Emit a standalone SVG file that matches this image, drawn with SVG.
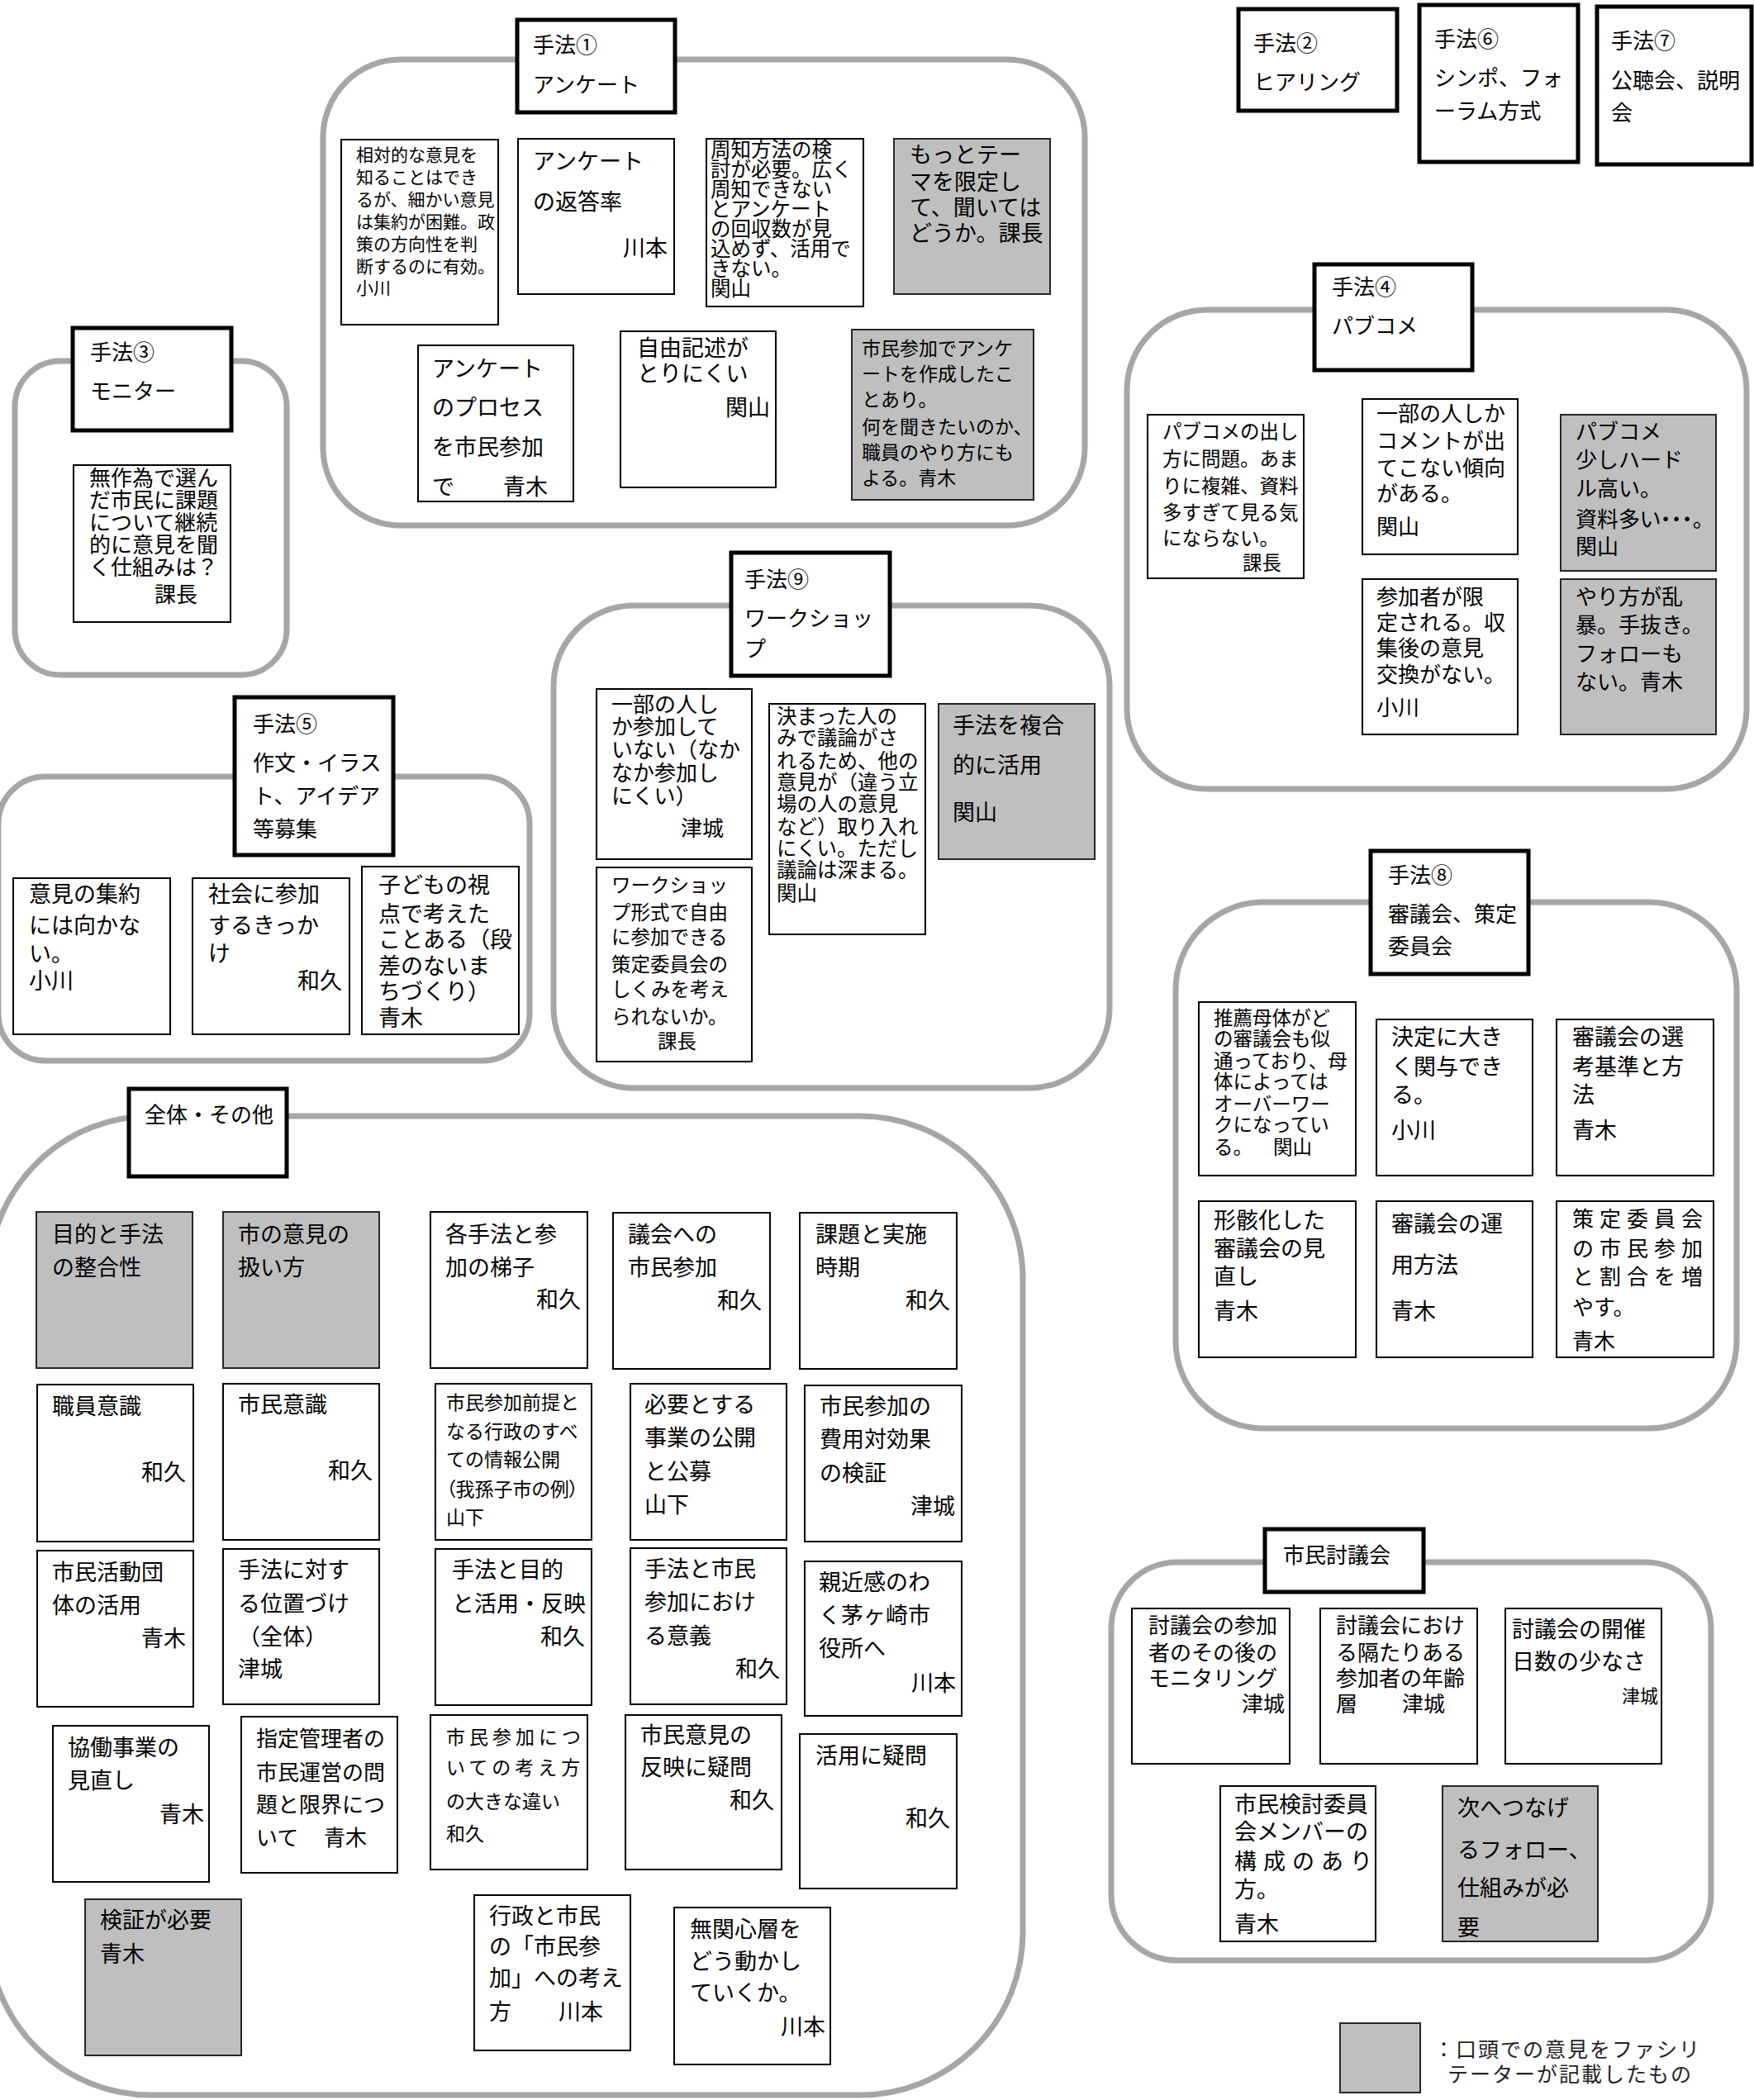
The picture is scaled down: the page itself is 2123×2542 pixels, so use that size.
<svg xmlns="http://www.w3.org/2000/svg" width="2123" height="2542" viewBox="0 0 2123 2542">
<style>
text{font-family:"Noto Sans CJK JP","Noto Sans CJK SC",sans-serif;fill:#000;font-size:26px}
.grp{fill:none;stroke:#a6a6a6;stroke-width:7}
.hdr{fill:#fff;stroke:#000;stroke-width:5}
.box{fill:#fff;stroke:#000;stroke-width:2}
.gry{fill:#bfbfbf;stroke:#262626;stroke-width:2}
.f27{font-size:27px}
.f25{font-size:25px}
.f245{font-size:24.5px}
.f235{font-size:23.5px}
.f23{font-size:23px}
.f22{font-size:22px}
.f21{font-size:21px}
.r{text-anchor:end}
.palt{font-feature-settings:"palt"}
.leg{font-size:25px;letter-spacing:2px;fill:#222}
</style>
<rect width="2123" height="2542" fill="#fff"/>
<g id="connectors"/>

<!-- 手法① -->
<g id="cluster-1">
<rect class="grp" x="391" y="72" width="922" height="564" rx="94"/>
<g id="h1"><rect class="hdr" x="626" y="24" width="191" height="112"/>
<text><tspan x="645" y="64">手法①</tspan><tspan x="645" y="112">アンケート</tspan></text></g>
<g id="n1a"><rect class="box" x="413" y="169" width="190" height="224"/>
<text class="f21"><tspan x="431" y="195">相対的な意見を</tspan><tspan x="431" y="222">知ることはでき</tspan><tspan x="431" y="249">るが、細かい意見</tspan><tspan x="431" y="276">は集約が困難。政</tspan><tspan x="431" y="303">策の方向性を判</tspan><tspan x="431" y="330">断するのに有効。</tspan><tspan x="431" y="356">小川</tspan></text></g>
<g id="n1b"><rect class="box" x="627" y="168" width="189" height="188"/>
<text class="f27"><tspan x="645" y="205">アンケート</tspan><tspan x="645" y="254">の返答率</tspan></text>
<text class="f27 r" x="808" y="310">川本</text></g>
<g id="n1c"><rect class="box" x="855" y="168" width="190" height="203"/>
<text class="f245"><tspan x="860" y="190">周知方法の検</tspan><tspan x="860" y="214">討が必要。広く</tspan><tspan x="860" y="238">周知できない</tspan><tspan x="860" y="262">とアンケート</tspan><tspan x="860" y="286">の回収数が見</tspan><tspan x="860" y="310">込めず、活用で</tspan><tspan x="860" y="334">きない。</tspan><tspan x="860" y="358">関山</tspan></text></g>
<g id="n1d"><rect class="gry" x="1082" y="168" width="189" height="188"/>
<text class="f27"><tspan x="1101" y="197">もっとテー</tspan><tspan x="1101" y="230">マを限定し</tspan><tspan x="1101" y="261">て、聞いては</tspan><tspan x="1101" y="292">どうか。課長</tspan></text></g>
<g id="n1e"><rect class="box" x="506" y="418" width="188" height="189"/>
<text class="f27"><tspan x="523" y="456">アンケート</tspan><tspan x="523" y="503">のプロセス</tspan><tspan x="523" y="551">を市民参加</tspan><tspan x="523" y="599">で</tspan><tspan x="609" y="599">青木</tspan></text></g>
<g id="n1f"><rect class="box" x="751" y="401" width="188" height="189"/>
<text class="f27"><tspan x="771" y="431">自由記述が</tspan><tspan x="771" y="462">とりにくい</tspan></text>
<text class="f27 r" x="932" y="503">関山</text></g>
<g id="n1g"><rect class="gry" x="1031" y="399" width="220" height="206"/>
<text class="f23"><tspan x="1043" y="430">市民参加でアンケ</tspan><tspan x="1043" y="461">ートを作成したこ</tspan><tspan x="1043" y="492">とあり。</tspan><tspan x="1043" y="525">何を聞きたいのか、</tspan><tspan x="1043" y="556">職員のやり方にも</tspan><tspan x="1043" y="587">よる。青木</tspan></text></g>
</g>

<!-- 手法② ⑥ ⑦ -->
<g id="h2"><rect class="hdr" x="1499" y="11" width="192" height="123"/>
<text><tspan x="1517" y="62">手法②</tspan><tspan x="1517" y="109">ヒアリング</tspan></text></g>
<g id="h6"><rect class="hdr" x="1718" y="6" width="192" height="190"/>
<text><tspan x="1736" y="57">手法⑥</tspan><tspan x="1736" y="104">シンポ、フォ</tspan><tspan x="1736" y="144">ーラム方式</tspan></text></g>
<g id="h7"><rect class="hdr" x="1933" y="8" width="187" height="191"/>
<text><tspan x="1950" y="59">手法⑦</tspan><tspan x="1950" y="107">公聴会、説明</tspan><tspan x="1950" y="146">会</tspan></text></g>

<!-- 手法③ -->
<g id="cluster-3">
<rect class="grp" x="18" y="437" width="329" height="380" rx="55"/>
<g id="h3"><rect class="hdr" x="88" y="397" width="192" height="124"/>
<text><tspan x="109" y="436">手法③</tspan><tspan x="109" y="483">モニター</tspan></text></g>
<g id="n3a"><rect class="box" x="89" y="563" width="190" height="190"/>
<text><tspan x="108" y="588">無作為で選ん</tspan><tspan x="108" y="615">だ市民に課題</tspan><tspan x="108" y="642">について継続</tspan><tspan x="108" y="669">的に意見を聞</tspan><tspan x="108" y="696">く仕組みは？</tspan><tspan x="187" y="729">課長</tspan></text></g>
</g>

<!-- 手法④ -->
<g id="cluster-4">
<rect class="grp" x="1364" y="375" width="750" height="580" rx="97"/>
<g id="h4"><rect class="hdr" x="1591" y="320" width="191" height="128"/>
<text><tspan x="1612" y="357">手法④</tspan><tspan x="1612" y="404">パブコメ</tspan></text></g>
<g id="n4a"><rect class="box" x="1389" y="502" width="189" height="198"/>
<text class="f235"><tspan x="1407" y="531">パブコメの出し</tspan><tspan x="1407" y="564">方に問題。あま</tspan><tspan x="1407" y="597">りに複雑、資料</tspan><tspan x="1407" y="629">多すぎて見る気</tspan><tspan x="1407" y="660">にならない。</tspan><tspan x="1504" y="690">課長</tspan></text></g>
<g id="n4b"><rect class="box" x="1649" y="483" width="188" height="188"/>
<text><tspan x="1666" y="510">一部の人しか</tspan><tspan x="1666" y="543">コメントが出</tspan><tspan x="1666" y="576">てこない傾向</tspan><tspan x="1666" y="607">がある。</tspan><tspan x="1666" y="647">関山</tspan></text></g>
<g id="n4c"><rect class="gry" x="1889" y="502" width="188" height="189"/>
<text><tspan x="1907" y="532">パブコメ</tspan><tspan x="1907" y="566">少しハード</tspan><tspan x="1907" y="601">ル高い。</tspan><tspan class="palt" x="1907" y="638">資料多い・・・。</tspan><tspan x="1907" y="671">関山</tspan></text></g>
<g id="n4d"><rect class="box" x="1649" y="701" width="188" height="188"/>
<text><tspan x="1666" y="732">参加者が限</tspan><tspan x="1666" y="763">定される。収</tspan><tspan x="1666" y="794">集後の意見</tspan><tspan x="1666" y="826">交換がない。</tspan><tspan x="1666" y="866">小川</tspan></text></g>
<g id="n4e"><rect class="gry" x="1889" y="701" width="188" height="188"/>
<text><tspan x="1907" y="732">やり方が乱</tspan><tspan x="1907" y="766">暴。手抜き。</tspan><tspan x="1907" y="801">フォローも</tspan><tspan x="1907" y="835">ない。青木</tspan></text></g>
</g>

<!-- 手法⑤ -->
<g id="cluster-5">
<rect class="grp" x="-2" y="940" width="643" height="344" rx="57"/>
<g id="h5"><rect class="hdr" x="284" y="844" width="192" height="191"/>
<text><tspan x="306" y="886">手法⑤</tspan><tspan x="306" y="933">作文・イラス</tspan><tspan x="306" y="973">ト、アイデア</tspan><tspan x="306" y="1013">等募集</tspan></text></g>
<g id="n5a"><rect class="box" x="16" y="1063" width="190" height="189"/>
<text class="f27"><tspan x="35" y="1092">意見の集約</tspan><tspan x="35" y="1130">には向かな</tspan><tspan x="35" y="1164">い。</tspan><tspan x="35" y="1197">小川</tspan></text></g>
<g id="n5b"><rect class="box" x="233" y="1063" width="190" height="189"/>
<text class="f27"><tspan x="252" y="1092">社会に参加</tspan><tspan x="252" y="1130">するきっか</tspan><tspan x="252" y="1164">け</tspan></text>
<text class="f27 r" x="414" y="1197">和久</text></g>
<g id="n5c"><rect class="box" x="438" y="1049" width="190" height="203"/>
<text class="f27"><tspan x="458" y="1081">子どもの視</tspan><tspan x="458" y="1116">点で考えた</tspan><tspan x="458" y="1147">ことある（段</tspan><tspan x="458" y="1179">差のないま</tspan><tspan x="458" y="1210">ちづくり）</tspan><tspan x="458" y="1242">青木</tspan></text></g>
</g>

<!-- 手法⑨ -->
<g id="cluster-9">
<rect class="grp" x="670" y="733" width="673" height="584" rx="97"/>
<g id="h9"><rect class="hdr" x="885" y="669" width="192" height="149"/>
<text><tspan x="901" y="711">手法⑨</tspan><tspan x="901" y="758">ワークショッ</tspan><tspan x="901" y="795">プ</tspan></text></g>
<g id="n9a"><rect class="box" x="722" y="834" width="188" height="206"/>
<text><tspan x="740" y="862">一部の人し</tspan><tspan x="740" y="889">か参加して</tspan><tspan x="740" y="917">いない（なか</tspan><tspan x="740" y="945">なか参加し</tspan><tspan x="740" y="973">にくい）</tspan><tspan x="824" y="1012">津城</tspan></text></g>
<g id="n9b"><rect class="box" x="722" y="1050" width="188" height="235"/>
<text class="f235"><tspan x="740" y="1080">ワークショッ</tspan><tspan x="740" y="1113">プ形式で自由</tspan><tspan x="740" y="1143">に参加できる</tspan><tspan x="740" y="1176">策定委員会の</tspan><tspan x="740" y="1206">しくみを考え</tspan><tspan x="740" y="1239">られないか。</tspan><tspan x="796" y="1269">課長</tspan></text></g>
<g id="n9c"><rect class="box" x="931" y="852" width="189" height="279"/>
<text class="f245"><tspan x="940" y="876">決まった人の</tspan><tspan x="940" y="902">みで議論がさ</tspan><tspan x="940" y="930">れるため、他の</tspan><tspan x="940" y="956">意見が（違う立</tspan><tspan x="940" y="982">場の人の意見</tspan><tspan x="940" y="1010">など）取り入れ</tspan><tspan x="940" y="1036">にくい。ただし</tspan><tspan x="940" y="1062">議論は深まる。</tspan><tspan x="940" y="1090">関山</tspan></text></g>
<g id="n9d"><rect class="gry" x="1136" y="852" width="189" height="188"/>
<text class="f27"><tspan x="1153" y="888">手法を複合</tspan><tspan x="1153" y="936">的に活用</tspan><tspan x="1153" y="993">関山</tspan></text></g>
</g>

<!-- 手法⑧ -->
<g id="cluster-8">
<rect class="grp" x="1423" y="1092" width="679" height="637" rx="106"/>
<g id="h8"><rect class="hdr" x="1659" y="1030" width="191" height="149"/>
<text><tspan x="1680" y="1069">手法⑧</tspan><tspan x="1680" y="1116">審議会、策定</tspan><tspan x="1680" y="1155">委員会</tspan></text></g>
<g id="n8a"><rect class="box" x="1451" y="1213" width="190" height="210"/>
<text class="f235"><tspan x="1469" y="1241">推薦母体がど</tspan><tspan x="1469" y="1266">の審議会も似</tspan><tspan x="1469" y="1293">通っており、母</tspan><tspan x="1469" y="1318">体によっては</tspan><tspan x="1469" y="1345">オーバーワー</tspan><tspan x="1469" y="1370">クになってい</tspan><tspan x="1469" y="1397">る。</tspan><tspan x="1541" y="1397">関山</tspan></text></g>
<g id="n8b"><rect class="box" x="1666" y="1234" width="189" height="189"/>
<text class="f27"><tspan x="1684" y="1265">決定に大き</tspan><tspan x="1684" y="1301">く関与でき</tspan><tspan x="1684" y="1335">る。</tspan><tspan x="1684" y="1378">小川</tspan></text></g>
<g id="n8c"><rect class="box" x="1884" y="1234" width="190" height="189"/>
<text class="f27"><tspan x="1903" y="1265">審議会の選</tspan><tspan x="1903" y="1301">考基準と方</tspan><tspan x="1903" y="1335">法</tspan><tspan x="1903" y="1378">青木</tspan></text></g>
<g id="n8d"><rect class="box" x="1451" y="1454" width="190" height="189"/>
<text class="f27"><tspan x="1469" y="1487">形骸化した</tspan><tspan x="1469" y="1521">審議会の見</tspan><tspan x="1469" y="1555">直し</tspan><tspan x="1469" y="1597">青木</tspan></text></g>
<g id="n8e"><rect class="box" x="1666" y="1454" width="189" height="189"/>
<text class="f27"><tspan x="1684" y="1491">審議会の運</tspan><tspan x="1684" y="1541">用方法</tspan><tspan x="1684" y="1597">青木</tspan></text></g>
<g id="n8f"><rect class="box" x="1884" y="1454" width="190" height="189"/>
<text><tspan x="1903" y="1485" letter-spacing="7">策定委員会</tspan><tspan x="1903" y="1521" letter-spacing="7">の市民参加</tspan><tspan x="1903" y="1555" letter-spacing="7">と割合を増</tspan><tspan x="1903" y="1592">やす。</tspan><tspan x="1903" y="1633">青木</tspan></text></g>
</g>

<!-- 全体・その他 -->
<g id="cluster-all">
<rect class="grp" x="-14" y="1351" width="1252" height="1185" rx="197"/>
<g id="hall"><rect class="hdr" x="156" y="1318" width="191" height="106"/>
<text x="175" y="1359">全体・その他</text></g>
<g id="a1"><rect class="gry" x="44" y="1467" width="189" height="189"/>
<text class="f27"><tspan x="63" y="1504">目的と手法</tspan><tspan x="63" y="1544">の整合性</tspan></text></g>
<g id="a2"><rect class="gry" x="270" y="1467" width="189" height="189"/>
<text class="f27"><tspan x="288" y="1504">市の意見の</tspan><tspan x="288" y="1544">扱い方</tspan></text></g>
<g id="a3"><rect class="box" x="521" y="1467" width="190" height="189"/>
<text class="f27"><tspan x="539" y="1504">各手法と参</tspan><tspan x="539" y="1544">加の梯子</tspan></text>
<text class="f27 r" x="703" y="1583">和久</text></g>
<g id="a4"><rect class="box" x="742" y="1468" width="190" height="189"/>
<text class="f27"><tspan x="760" y="1504">議会への</tspan><tspan x="760" y="1544">市民参加</tspan></text>
<text class="f27 r" x="922" y="1584">和久</text></g>
<g id="a5"><rect class="box" x="968" y="1468" width="190" height="189"/>
<text class="f27"><tspan x="987" y="1504">課題と実施</tspan><tspan x="987" y="1544">時期</tspan></text>
<text class="f27 r" x="1150" y="1584">和久</text></g>
<g id="a6"><rect class="box" x="45" y="1676" width="189" height="190"/>
<text class="f27" x="63" y="1712">職員意識</text>
<text class="f27 r" x="225" y="1792">和久</text></g>
<g id="a7"><rect class="box" x="270" y="1675" width="189" height="189"/>
<text class="f27" x="288" y="1710">市民意識</text>
<text class="f27 r" x="451" y="1790">和久</text></g>
<g id="a8"><rect class="box" x="527" y="1675" width="189" height="189"/>
<text class="f23"><tspan x="540" y="1706">市民参加前提と</tspan><tspan x="540" y="1741">なる行政のすべ</tspan><tspan x="540" y="1775">ての情報公開</tspan><tspan class="palt" x="540" y="1811">（我孫子市の例）</tspan><tspan x="540" y="1845">山下</tspan></text></g>
<g id="a9"><rect class="box" x="763" y="1675" width="189" height="189"/>
<text class="f27"><tspan x="780" y="1710">必要とする</tspan><tspan x="780" y="1750">事業の公開</tspan><tspan x="780" y="1791">と公募</tspan><tspan x="780" y="1831">山下</tspan></text></g>
<g id="a10"><rect class="box" x="974" y="1677" width="190" height="189"/>
<text class="f27"><tspan x="992" y="1712">市民参加の</tspan><tspan x="992" y="1752">費用対効果</tspan><tspan x="992" y="1793">の検証</tspan></text>
<text class="f27 r" x="1156" y="1833">津城</text></g>
<g id="a11"><rect class="box" x="45" y="1877" width="189" height="189"/>
<text class="f27"><tspan x="63" y="1913">市民活動団</tspan><tspan x="63" y="1953">体の活用</tspan></text>
<text class="f27 r" x="225" y="1993">青木</text></g>
<g id="a12"><rect class="box" x="270" y="1875" width="189" height="188"/>
<text class="f27"><tspan x="288" y="1910">手法に対す</tspan><tspan x="288" y="1951">る位置づけ</tspan><tspan x="288" y="1991">（全体）</tspan><tspan x="288" y="2030">津城</tspan></text></g>
<g id="a13"><rect class="box" x="527" y="1875" width="189" height="189"/>
<text class="f27"><tspan x="547" y="1910">手法と目的</tspan><tspan x="547" y="1951">と活用・反映</tspan></text>
<text class="f27 r" x="708" y="1991">和久</text></g>
<g id="a14"><rect class="box" x="763" y="1874" width="189" height="189"/>
<text class="f27"><tspan x="780" y="1909">手法と市民</tspan><tspan x="780" y="1949">参加におけ</tspan><tspan x="780" y="1990">る意義</tspan></text>
<text class="f27 r" x="944" y="2030">和久</text></g>
<g id="a15"><rect class="box" x="974" y="1890" width="190" height="187"/>
<text class="f27"><tspan x="991" y="1925">親近感のわ</tspan><tspan x="991" y="1965">く茅ヶ崎市</tspan><tspan x="991" y="2005">役所へ</tspan></text>
<text class="f27 r" x="1157" y="2047">川本</text></g>
<g id="a16"><rect class="box" x="64" y="2089" width="189" height="189"/>
<text class="f27"><tspan x="82" y="2125">協働事業の</tspan><tspan x="82" y="2165">見直し</tspan></text>
<text class="f27 r" x="247" y="2206">青木</text></g>
<g id="a17"><rect class="box" x="292" y="2078" width="189" height="189"/>
<text><tspan x="310" y="2114">指定管理者の</tspan><tspan x="310" y="2155">市民運営の問</tspan><tspan x="310" y="2194">題と限界につ</tspan><tspan x="310" y="2234">いて</tspan><tspan x="392" y="2234">青木</tspan></text></g>
<g id="a18"><rect class="box" x="521" y="2076" width="190" height="187"/>
<text class="f23"><tspan x="540" y="2111" letter-spacing="5">市民参加につ</tspan><tspan x="540" y="2148" letter-spacing="5">いての考え方</tspan><tspan x="540" y="2189">の大きな違い</tspan><tspan x="540" y="2228">和久</tspan></text></g>
<g id="a19"><rect class="box" x="757" y="2076" width="189" height="187"/>
<text class="f27"><tspan x="775" y="2110">市民意見の</tspan><tspan x="775" y="2149">反映に疑問</tspan></text>
<text class="f27 r" x="937" y="2189">和久</text></g>
<g id="a20"><rect class="box" x="968" y="2099" width="190" height="187"/>
<text class="f27" x="987" y="2135">活用に疑問</text>
<text class="f27 r" x="1150" y="2211">和久</text></g>
<g id="a21"><rect class="gry" x="103" y="2299" width="189" height="189"/>
<text class="f27"><tspan x="121" y="2334">検証が必要</tspan><tspan x="121" y="2375">青木</tspan></text></g>
<g id="a22"><rect class="box" x="574" y="2294" width="189" height="188"/>
<text class="f27"><tspan x="592" y="2329">行政と市民</tspan><tspan x="592" y="2366">の「市民参</tspan><tspan x="592" y="2404">加」への考え</tspan><tspan x="592" y="2445">方</tspan><tspan x="676" y="2445">川本</tspan></text></g>
<g id="a23"><rect class="box" x="816" y="2309" width="189" height="190"/>
<text class="f27"><tspan x="835" y="2345">無関心層を</tspan><tspan x="835" y="2384">どう動かし</tspan><tspan x="835" y="2422">ていくか。</tspan></text>
<text class="f27 r" x="999" y="2463">川本</text></g>
</g>

<!-- 市民討議会 -->
<g id="cluster-t">
<rect class="grp" x="1345" y="1891" width="726" height="482" rx="80"/>
<g id="ht"><rect class="hdr" x="1531" y="1851" width="192" height="76"/>
<text x="1553" y="1892">市民討議会</text></g>
<g id="t1"><rect class="box" x="1370" y="1947" width="191" height="188"/>
<text><tspan x="1390" y="1977">討議会の参加</tspan><tspan x="1390" y="2010">者のその後の</tspan><tspan x="1390" y="2041">モニタリング</tspan><tspan x="1503" y="2072">津城</tspan></text></g>
<g id="t2"><rect class="box" x="1598" y="1947" width="190" height="188"/>
<text><tspan x="1617" y="1977">討議会におけ</tspan><tspan x="1617" y="2010">る隔たりある</tspan><tspan x="1617" y="2041">参加者の年齢</tspan><tspan x="1617" y="2072">層</tspan><tspan x="1697" y="2072">津城</tspan></text></g>
<g id="t3"><rect class="box" x="1822" y="1947" width="189" height="188"/>
<text class="f27"><tspan x="1830" y="1982">討議会の開催</tspan><tspan x="1830" y="2021">日数の少なさ</tspan></text>
<text class="f22 r" x="2007" y="2061">津城</text></g>
<g id="t4"><rect class="box" x="1477" y="2162" width="188" height="188"/>
<text class="f27"><tspan x="1494" y="2194">市民検討委員</tspan><tspan x="1494" y="2227">会メンバーの</tspan><tspan x="1494" y="2263" letter-spacing="8">構成のあり</tspan><tspan x="1494" y="2297">方。</tspan><tspan x="1494" y="2339">青木</tspan></text></g>
<g id="t5"><rect class="gry" x="1746" y="2162" width="188" height="188"/>
<text class="f27"><tspan x="1764" y="2198">次へつなげ</tspan><tspan x="1764" y="2249">るフォロー、</tspan><tspan x="1764" y="2295">仕組みが必</tspan><tspan x="1764" y="2343">要</tspan></text></g>
</g>

<!-- 凡例 -->
<g id="legend">
<rect class="gry" x="1622" y="2449" width="97" height="84"/>
<text class="leg"><tspan x="1735" y="2490">：口頭での意見をファシリ</tspan><tspan x="1752" y="2520">テーターが記載したもの</tspan></text>
</g>
</svg>
